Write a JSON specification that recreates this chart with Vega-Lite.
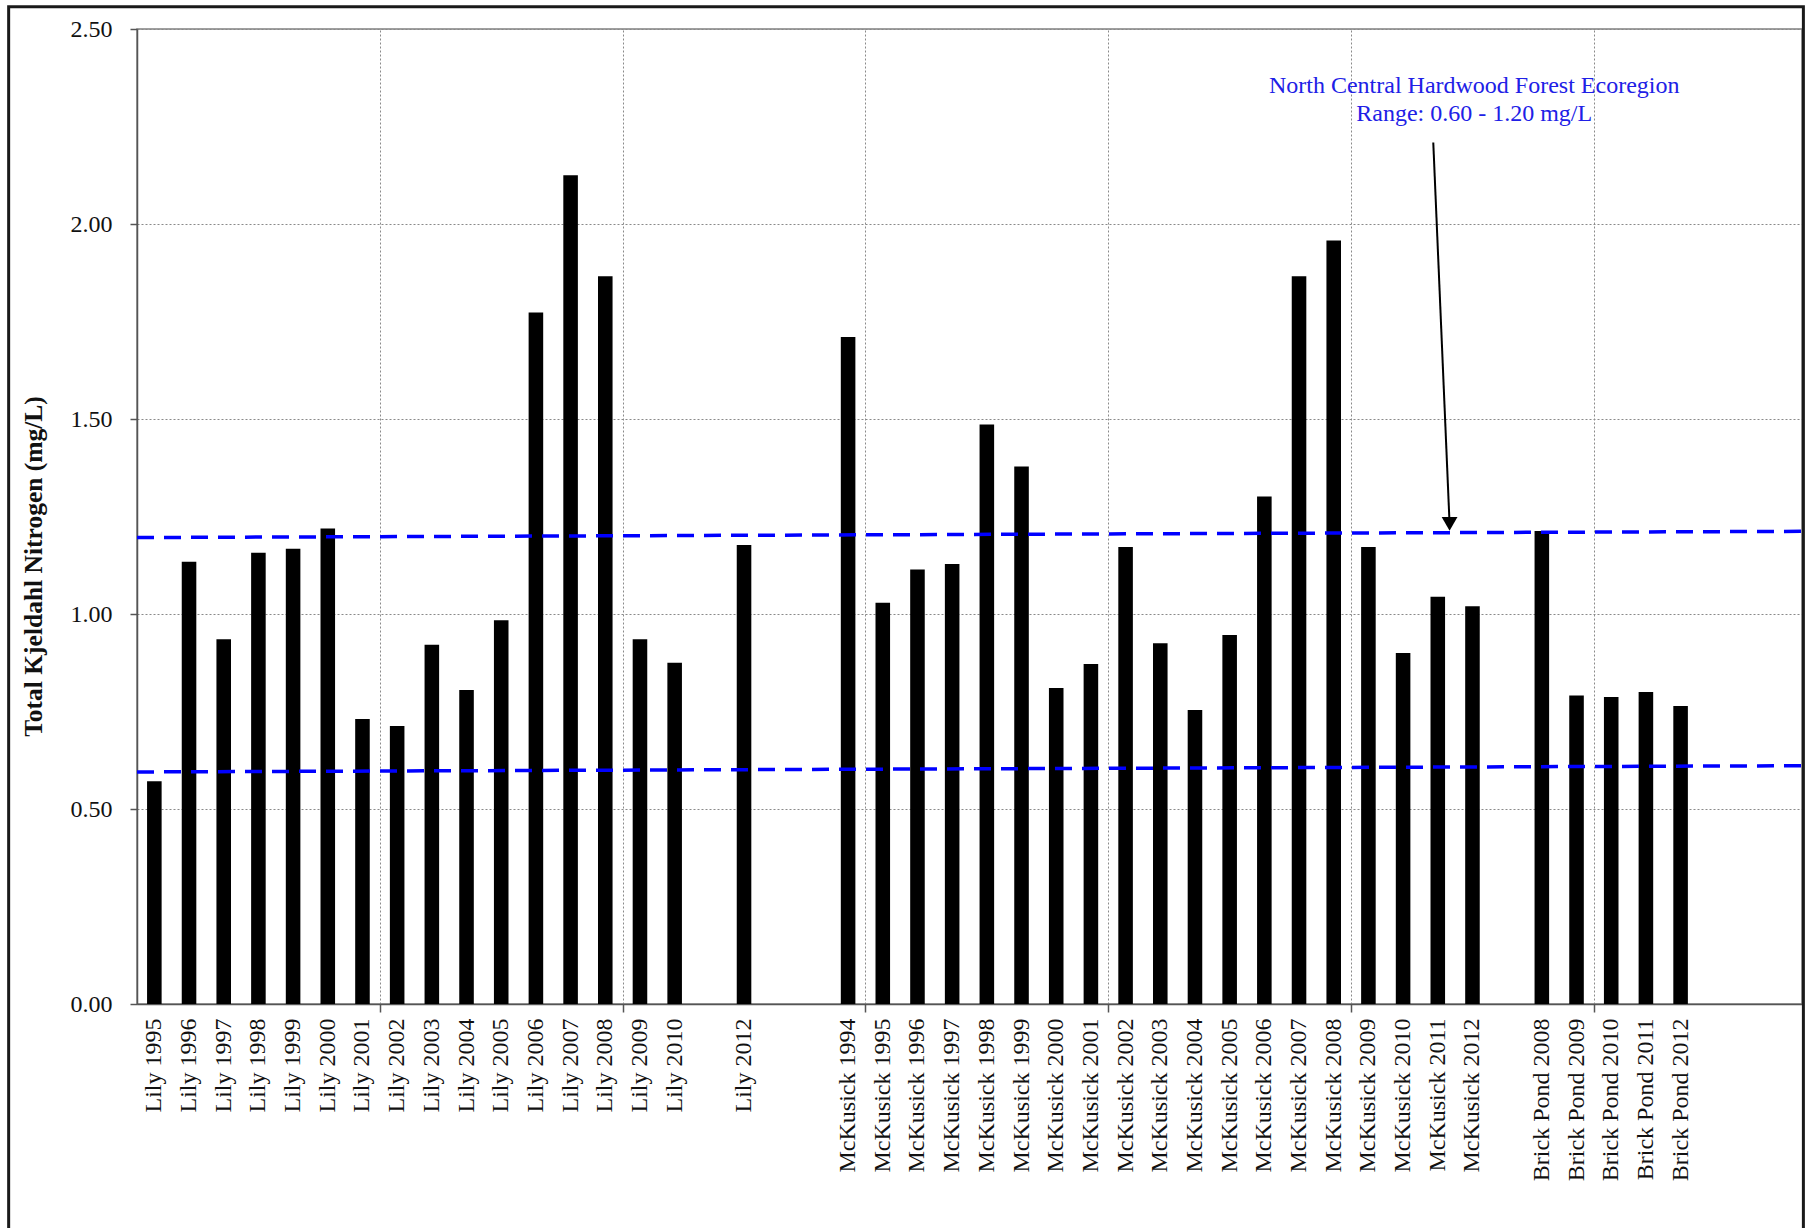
{
  "$schema": "https://vega.github.io/schema/vega-lite/v6.json",
  "width": 1665,
  "height": 975,
  "autosize": {"type": "none"},
  "padding": {"left": 137, "top": 29, "right": 9, "bottom": 224},
  "background": "white",
  "config": {
    "font": "Liberation Serif",
    "view": {"stroke": "#808080", "strokeWidth": 1.5},
    "axis": {
      "labelFont": "Liberation Serif",
      "titleFont": "Liberation Serif",
      "domainColor": "#555555",
      "domainWidth": 1.5,
      "tickColor": "#555555",
      "tickWidth": 1.5,
      "labelColor": "#111111",
      "titleColor": "#111111"
    }
  },
  "datasets": {
    "tkn": [
      {"site": "Lily 1995", "tkn": 0.571},
      {"site": "Lily 1996", "tkn": 1.134},
      {"site": "Lily 1997", "tkn": 0.935},
      {"site": "Lily 1998", "tkn": 1.157},
      {"site": "Lily 1999", "tkn": 1.167},
      {"site": "Lily 2000", "tkn": 1.219},
      {"site": "Lily 2001", "tkn": 0.731},
      {"site": "Lily 2002", "tkn": 0.713},
      {"site": "Lily 2003", "tkn": 0.921},
      {"site": "Lily 2004", "tkn": 0.805},
      {"site": "Lily 2005", "tkn": 0.984},
      {"site": "Lily 2006", "tkn": 1.773},
      {"site": "Lily 2007", "tkn": 2.125},
      {"site": "Lily 2008", "tkn": 1.866},
      {"site": "Lily 2009", "tkn": 0.935},
      {"site": "Lily 2010", "tkn": 0.875},
      {"site": "Lily 2012", "tkn": 1.177},
      {"site": "McKusick 1994", "tkn": 1.71},
      {"site": "McKusick 1995", "tkn": 1.029},
      {"site": "McKusick 1996", "tkn": 1.114},
      {"site": "McKusick 1997", "tkn": 1.128},
      {"site": "McKusick 1998", "tkn": 1.486},
      {"site": "McKusick 1999", "tkn": 1.378},
      {"site": "McKusick 2000", "tkn": 0.81},
      {"site": "McKusick 2001", "tkn": 0.872},
      {"site": "McKusick 2002", "tkn": 1.172},
      {"site": "McKusick 2003", "tkn": 0.925},
      {"site": "McKusick 2004", "tkn": 0.754},
      {"site": "McKusick 2005", "tkn": 0.946},
      {"site": "McKusick 2006", "tkn": 1.301},
      {"site": "McKusick 2007", "tkn": 1.866},
      {"site": "McKusick 2008", "tkn": 1.958},
      {"site": "McKusick 2009", "tkn": 1.172},
      {"site": "McKusick 2010", "tkn": 0.9},
      {"site": "McKusick 2011", "tkn": 1.044},
      {"site": "McKusick 2012", "tkn": 1.02},
      {"site": "Brick Pond 2008", "tkn": 1.213},
      {"site": "Brick Pond 2009", "tkn": 0.791},
      {"site": "Brick Pond 2010", "tkn": 0.787},
      {"site": "Brick Pond 2011", "tkn": 0.8},
      {"site": "Brick Pond 2012", "tkn": 0.764}
    ],
    "limits": [
      {"limit": "upper", "start": 1.196, "end": 1.212},
      {"limit": "lower", "start": 0.595, "end": 0.611}
    ],
    "note": [
      {"line": "North Central Hardwood Forest Ecoregion", "pos": 38.55, "level": 2.337},
      {"line": "Range: 0.60 - 1.20 mg/L", "pos": 38.55, "level": 2.263}
    ],
    "arrow": [
      {"pos": 37.37, "level": 2.209, "pos2": 37.84, "level2": 1.231}
    ]
  },
  "layer": [
    {
      "data": {"name": "tkn"},
      "mark": {"type": "bar", "color": "#000000"},
      "encoding": {
        "x": {
          "field": "site",
          "type": "nominal",
          "sort": null,
          "scale": {
            "domain": ["Lily 1995","Lily 1996","Lily 1997","Lily 1998","Lily 1999","Lily 2000","Lily 2001","Lily 2002","Lily 2003","Lily 2004","Lily 2005","Lily 2006","Lily 2007","Lily 2008","Lily 2009","Lily 2010","gap1","Lily 2012","gap2","gap3","McKusick 1994","McKusick 1995","McKusick 1996","McKusick 1997","McKusick 1998","McKusick 1999","McKusick 2000","McKusick 2001","McKusick 2002","McKusick 2003","McKusick 2004","McKusick 2005","McKusick 2006","McKusick 2007","McKusick 2008","McKusick 2009","McKusick 2010","McKusick 2011","McKusick 2012","gap4","Brick Pond 2008","Brick Pond 2009","Brick Pond 2010","Brick Pond 2011","Brick Pond 2012","gap5","gap6","gap7"],
            "paddingInner": 0.58,
            "paddingOuter": 0.29
          },
          "axis": {
            "orient": "bottom",
            "title": null,
            "labelAngle": -90,
            "labelFontSize": 24,
            "labelPadding": 14,
            "ticks": false,
            "grid": false,
            "labelOverlap": false,
            "labelLimit": 400,
            "labelExpr": "indexof(datum.value, 'gap') === 0 ? '' : datum.value"
          }
        },
        "y": {
          "field": "tkn",
          "type": "quantitative",
          "title": "Total Kjeldahl Nitrogen (mg/L)",
          "scale": {"domain": [0, 2.5], "nice": false},
          "axis": {
            "values": [0, 0.5, 1, 1.5, 2, 2.5],
            "format": ".2f",
            "titleFontWeight": "bold",
            "titleFontSize": 25.5,
            "titlePadding": 24,
            "titleY": 537,
            "labelFontSize": 24,
            "tickSize": 7,
            "labelPadding": 18,
            "grid": true,
            "gridDash": [2, 2],
            "gridColor": "#8a8a8a",
            "gridWidth": 1
          }
        }
      }
    },
    {
      "mark": {"type": "rule", "color": "#000000", "opacity": 0},
      "encoding": {
        "x": {
          "datum": 0,
          "type": "quantitative",
          "scale": {"domain": [0, 48], "nice": false, "zero": false},
          "axis": {"orient": "bottom", "values": [7, 14, 21, 28, 35, 42], "grid": true, "gridDash": [2, 2], "gridColor": "#8a8a8a", "gridWidth": 1, "labels": false, "ticks": true, "tickSize": 8, "domain": false, "title": null}
        }
      }
    },
    {
      "data": {"name": "limits"},
      "mark": {"type": "rule", "color": "#0000ff", "strokeWidth": 3.5, "strokeDash": [17, 10]},
      "encoding": {
        "x": {"datum": 0, "type": "quantitative", "scale": {"domain": [0, 48], "nice": false, "zero": false}, "axis": null},
        "x2": {"datum": 48},
        "y": {"field": "start", "type": "quantitative", "title": "Total Kjeldahl Nitrogen (mg/L)"},
        "y2": {"field": "end"}
      }
    },
    {
      "data": {"name": "note"},
      "mark": {"type": "text", "color": "#2020e6", "fontSize": 24, "font": "Liberation Serif", "align": "center", "baseline": "alphabetic"},
      "encoding": {
        "x": {"field": "pos", "type": "quantitative", "scale": {"domain": [0, 48], "nice": false, "zero": false}, "axis": null},
        "y": {"field": "level", "type": "quantitative", "title": "Total Kjeldahl Nitrogen (mg/L)"},
        "text": {"field": "line"}
      }
    },
    {
      "data": {"name": "arrow"},
      "mark": {"type": "rule", "color": "#000000", "strokeWidth": 2},
      "encoding": {
        "x": {"field": "pos", "type": "quantitative", "scale": {"domain": [0, 48], "nice": false, "zero": false}, "axis": null},
        "x2": {"field": "pos2"},
        "y": {"field": "level", "type": "quantitative", "title": "Total Kjeldahl Nitrogen (mg/L)"},
        "y2": {"field": "level2"}
      }
    },
    {
      "data": {"name": "arrow"},
      "mark": {"type": "point", "shape": "triangle-down", "filled": true, "size": 250, "color": "#000000", "opacity": 1},
      "encoding": {
        "x": {"field": "pos2", "type": "quantitative", "scale": {"domain": [0, 48], "nice": false, "zero": false}, "axis": null},
        "y": {"field": "level2", "type": "quantitative", "title": "Total Kjeldahl Nitrogen (mg/L)"}
      }
    },
    {
      "data": {"values": [{}]},
      "mark": {"type": "rect", "fillOpacity": 0, "stroke": "#1a1a1a", "strokeWidth": 3},
      "encoding": {
        "x": {"datum": -3.7, "type": "quantitative", "scale": {"domain": [0, 48], "nice": false, "zero": false}, "axis": null},
        "x2": {"datum": 48.04},
        "y": {"datum": 2.557, "type": "quantitative", "title": "Total Kjeldahl Nitrogen (mg/L)"},
        "y2": {"datum": -0.7}
      }
    }
  ],
  "resolve": {"scale": {"x": "independent"}, "axis": {"x": "independent"}}
}
